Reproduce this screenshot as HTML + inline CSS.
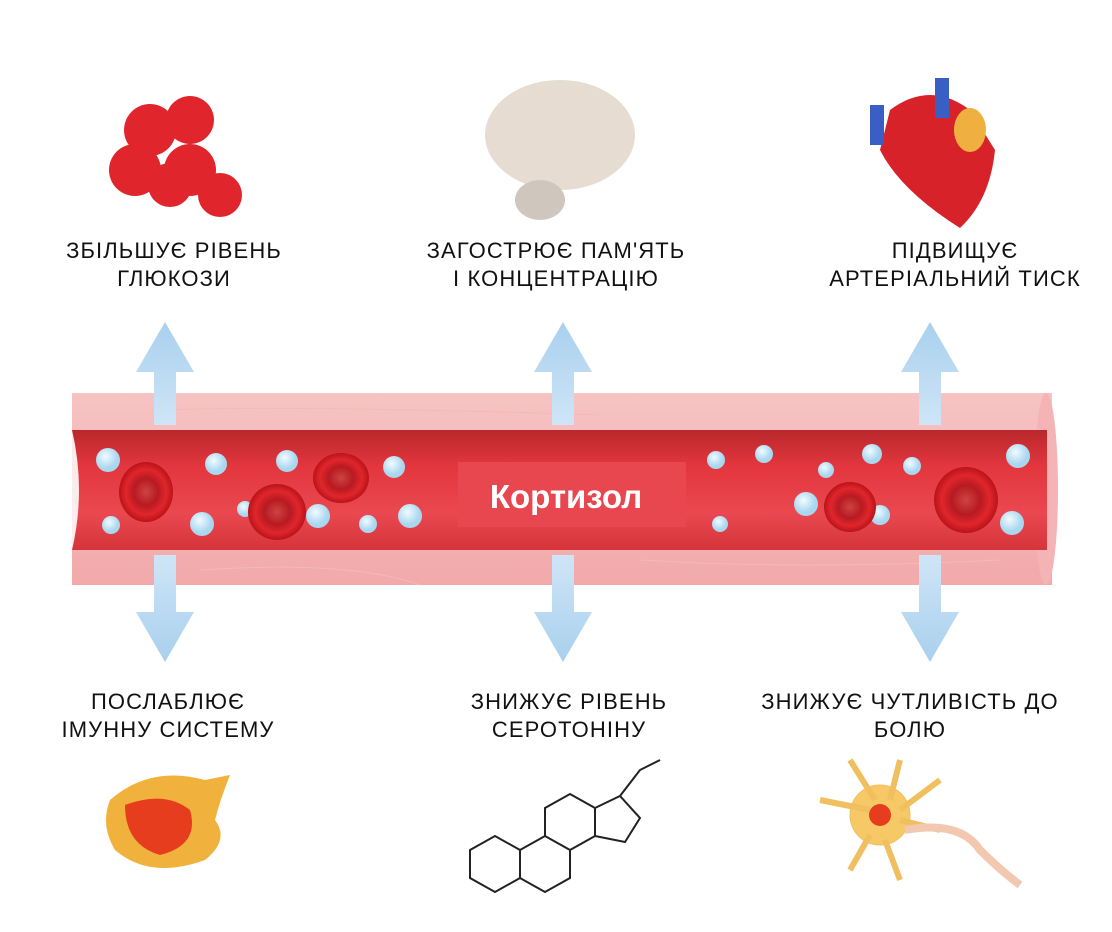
<!DOCTYPE html>
<html><head><meta charset="utf-8"><style>
body{margin:0;background:#fff;width:1112px;height:932px;overflow:hidden;font-family:"Liberation Sans",sans-serif}
.t{position:absolute;text-align:center;font-size:22px;color:#111;line-height:28px;letter-spacing:1.1px;transform:translateX(-50%);white-space:nowrap}
</style></head><body>
<svg width="1112" height="932" style="position:absolute;left:0;top:0">
<defs>
<linearGradient id="wall" x1="0" y1="0" x2="0" y2="1"><stop offset="0" stop-color="#f7c3c3"/><stop offset="1" stop-color="#f2a9aa"/></linearGradient>
<linearGradient id="lum" x1="0" y1="0" x2="0" y2="1"><stop offset="0" stop-color="#b8282c"/><stop offset="0.3" stop-color="#e3363e"/><stop offset="0.7" stop-color="#ea4850"/><stop offset="1" stop-color="#d5343a"/></linearGradient>
<radialGradient id="rbc"><stop offset="0" stop-color="#c44"/><stop offset="0.45" stop-color="#b81a22"/><stop offset="0.75" stop-color="#e0262c"/><stop offset="1" stop-color="#b8141a"/></radialGradient>
<radialGradient id="dot" cx="0.4" cy="0.35"><stop offset="0" stop-color="#f2fbff"/><stop offset="1" stop-color="#a8d7ef"/></radialGradient>
<linearGradient id="arU" x1="0" y1="0" x2="0" y2="1"><stop offset="0" stop-color="#a9d0ee"/><stop offset="1" stop-color="#cfe5f6"/></linearGradient>
<linearGradient id="arD" x1="0" y1="1" x2="0" y2="0"><stop offset="0" stop-color="#a9d0ee"/><stop offset="1" stop-color="#cfe5f6"/></linearGradient>
</defs>
<rect x="72" y="393" width="980" height="192" fill="url(#wall)"/>
<ellipse cx="1046" cy="489" rx="12" ry="96" fill="#f4b4b5"/>
<rect x="72" y="430" width="975" height="120" fill="url(#lum)"/>
<path d="M72 430 Q86 490 72 550 Z" fill="#fff" opacity="0.9"/>
<path d="M160 410 Q300 405 600 415 M640 560 Q800 570 1000 560 M200 570 Q350 560 420 585" stroke="#f4b8b8" fill="none"/>
<g fill="url(#arU)">
<path d="M154 425 V372 H136 L165 322 L194 372 H176 V425Z"/>
<path d="M552 425 V372 H534 L563 322 L592 372 H574 V425Z"/>
<path d="M919 425 V372 H901 L930 322 L959 372 H941 V425Z"/>
</g>
<g fill="url(#arD)">
<path d="M154 555 V612 H136 L165 662 L194 612 H176 V555Z"/>
<path d="M552 555 V612 H534 L563 662 L592 612 H574 V555Z"/>
<path d="M919 555 V612 H901 L930 662 L959 612 H941 V555Z"/>
</g>
<g fill="url(#dot)">
<circle cx="108" cy="460" r="12"/><circle cx="111" cy="525" r="9"/><circle cx="216" cy="464" r="11"/><circle cx="202" cy="524" r="12"/>
<circle cx="287" cy="461" r="11"/><circle cx="245" cy="509" r="8"/><circle cx="318" cy="516" r="12"/><circle cx="368" cy="524" r="9"/>
<circle cx="394" cy="467" r="11"/><circle cx="410" cy="516" r="12"/><circle cx="716" cy="460" r="9"/><circle cx="720" cy="524" r="8"/>
<circle cx="764" cy="454" r="9"/><circle cx="826" cy="470" r="8"/><circle cx="806" cy="504" r="12"/><circle cx="872" cy="454" r="10"/>
<circle cx="880" cy="515" r="10"/><circle cx="912" cy="466" r="9"/><circle cx="1018" cy="456" r="12"/><circle cx="1012" cy="523" r="12"/>
</g>
<g fill="url(#rbc)">
<ellipse cx="146" cy="492" rx="27" ry="30"/><ellipse cx="277" cy="512" rx="29" ry="28"/><ellipse cx="341" cy="478" rx="28" ry="25"/>
<ellipse cx="850" cy="507" rx="26" ry="25"/><ellipse cx="966" cy="500" rx="32" ry="33"/>
</g>
<rect x="458" y="462" width="228" height="65" fill="#e9474f"/>
<text x="566" y="508" text-anchor="middle" font-family="Liberation Sans" font-weight="bold" font-size="33" fill="#fff">Кортизол</text>
<g fill="#e0262c"><circle cx="150" cy="130" r="26"/><circle cx="190" cy="120" r="24"/><circle cx="135" cy="170" r="26"/><circle cx="190" cy="170" r="26"/><circle cx="220" cy="195" r="22"/><circle cx="170" cy="185" r="22"/></g>
<ellipse cx="560" cy="135" rx="75" ry="55" fill="#e6dcd2"/><ellipse cx="540" cy="200" rx="25" ry="20" fill="#cfc6bd"/>
<path d="M890 110 Q930 80 970 110 L995 150 Q990 200 960 228 Q900 190 880 150Z" fill="#d8222a"/>
<rect x="870" y="105" width="14" height="40" fill="#3a5fc4"/><rect x="935" y="78" width="14" height="40" fill="#3a5fc4"/><ellipse cx="970" cy="130" rx="16" ry="22" fill="#f0b040"/>
<path d="M110 800 Q150 765 205 780 L230 775 Q220 800 215 820 Q230 840 205 860 Q150 880 115 850 Q100 825 110 800Z" fill="#f0b23c"/>
<path d="M125 805 Q165 790 190 810 Q200 845 160 855 Q125 845 125 805Z" fill="#e63d1e"/>
<g stroke="#222" stroke-width="2" fill="none">
<path d="M470 850 L495 836 L520 850 L520 878 L495 892 L470 878Z M520 850 L545 836 L570 850 L570 878 L545 892 L520 878 M545 836 L545 808 L570 794 L595 808 L595 836 L570 850 M595 808 L620 796 L640 818 L625 842 L595 836 M620 796 L640 770 L660 760"/>
</g>
<g fill="#f6c866" stroke="#f0c060"><circle cx="880" cy="815" r="30"/><path d="M820 800 L870 810 M850 760 L875 800 M900 760 L890 800 M940 780 L900 810 M940 830 L900 820 M900 880 L885 840 M850 870 L870 835" stroke-width="6"/><path d="M905 830 Q960 820 980 850 Q1000 870 1020 885" stroke="#f2c8b0" stroke-width="8" fill="none"/></g>
<circle cx="880" cy="815" r="11" fill="#e63d1e"/>
</svg>
<div class="t" style="left:174px;top:237px">ЗБІЛЬШУЄ РІВЕНЬ<br>ГЛЮКОЗИ</div>
<div class="t" style="left:556px;top:237px">ЗАГОСТРЮЄ ПАМ'ЯТЬ<br>І КОНЦЕНТРАЦІЮ</div>
<div class="t" style="left:955px;top:237px">ПІДВИЩУЄ<br>АРТЕРІАЛЬНИЙ ТИСК</div>
<div class="t" style="left:168px;top:688px">ПОСЛАБЛЮЄ<br>ІМУННУ СИСТЕМУ</div>
<div class="t" style="left:569px;top:688px">ЗНИЖУЄ РІВЕНЬ<br>СЕРОТОНІНУ</div>
<div class="t" style="left:910px;top:688px">ЗНИЖУЄ ЧУТЛИВІСТЬ ДО<br>БОЛЮ</div>
</body></html>
